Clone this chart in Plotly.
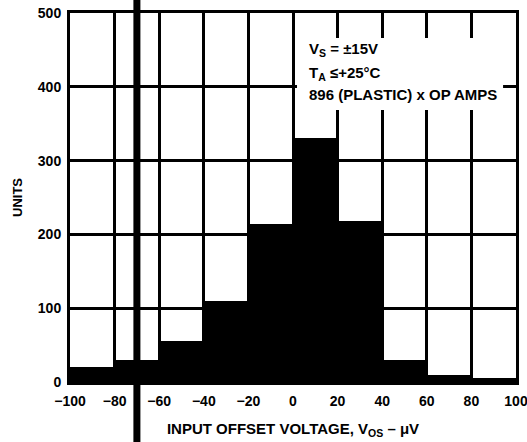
import plotly.graph_objects as go

bin_left = [-100, -80, -60, -40, -20, 0, 20, 40, 60, 80]
bin_width = 20
counts = [20, 30, 55, 110, 214, 330, 218, 30, 10, 6]
x_ticks = [-100, -80, -60, -40, -20, 0, 20, 40, 60, 80, 100]
y_ticks = [0, 100, 200, 300, 400, 500]
note_lines = ["V<sub>S</sub> = ±15V", "T<sub>A</sub> ≤+25°C", "896 (PLASTIC) x OP AMPS"]
note_y = [0.902, 0.837, 0.778]
artifact_x = -70

fam = "Liberation Sans"

fig = go.Figure()
fig.add_trace(go.Bar(
    x=[b + bin_width / 2 for b in bin_left],
    y=counts,
    width=bin_width,
    marker=dict(color="black", line=dict(width=0)),
    showlegend=False,
))

fig.update_layout(
    width=527, height=442,
    margin=dict(l=70, r=11, t=13, b=60),
    paper_bgcolor="white", plot_bgcolor="white",
    font=dict(family=fam, color="black", size=14, weight="bold"),
    bargap=0,
    xaxis=dict(
        range=[-100, 100], tickvals=x_ticks,
        tickfont=dict(size=14, weight="bold"),
        showgrid=True, gridcolor="black", gridwidth=3,
        showline=True, linecolor="black", linewidth=3, mirror=True,
        ticks="", zeroline=False, ticklabelstandoff=4, automargin=False,
        ticklabeloverflow="allow",
        title=dict(text="INPUT OFFSET VOLTAGE, V<sub>OS</sub> – μV",
                   font=dict(size=15, weight="bold"), standoff=16),
    ),
    yaxis=dict(
        range=[0, 500], tickvals=y_ticks,
        tickfont=dict(size=14, weight="bold"),
        showgrid=True, gridcolor="black", gridwidth=3,
        showline=True, linecolor="black", linewidth=3, mirror=True,
        ticks="", zeroline=False, ticklabelstandoff=3, automargin=False,
        ticklabeloverflow="allow",
        title=dict(text="UNITS", font=dict(size=13, weight="bold"), standoff=13),
    ),
)

# white panel behind the note (hides grid lines)
fig.add_shape(type="rect", xref="paper", yref="paper", x0=0.509, x1=0.971, y0=0.737, y1=0.932,
              fillcolor="white", line=dict(width=0), layer="above")

for txt, yy in zip(note_lines, note_y):
    fig.add_annotation(
        x=0.531, y=yy, xref="paper", yref="paper", xanchor="left", yanchor="middle",
        text=txt, align="left", showarrow=False,
        font=dict(size=15, family=fam, weight="bold"),
    )

fig.add_shape(type="line", xref="x", yref="paper", x0=artifact_x, x1=artifact_x,
              y0=-0.17, y1=1.04, line=dict(color="black", width=7), layer="above")

fig.write_html("out.html", config={"displayModeBar": False},
               post_script="document.body.style.margin='0';document.body.style.overflow='hidden';")
